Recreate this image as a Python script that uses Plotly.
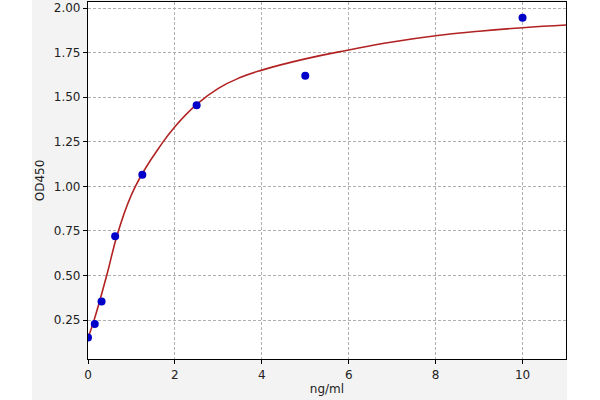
import plotly.graph_objects as go

# standard points
conc = [0, 0.156, 0.312, 0.625, 1.25, 2.5, 5, 10]
od450 = [0.153, 0.228, 0.355, 0.72, 1.065, 1.455, 1.62, 1.945]

# fitted curve
curve_x = [0, 0.14, 0.43, 0.70, 1.09, 1.70, 2.0, 2.5, 3.0, 3.5, 4.0, 5.0, 6.0, 7.0, 8.0, 9.0, 10.0, 11.0]
curve_y = [0.15, 0.25, 0.50, 0.75, 1.00, 1.24, 1.335, 1.46, 1.55, 1.61, 1.652, 1.715, 1.765, 1.81, 1.845, 1.87, 1.89, 1.905]

x_ticks = [0, 2, 4, 6, 8, 10]
y_ticks = [0.25, 0.50, 0.75, 1.00, 1.25, 1.50, 1.75, 2.00]

fig = go.Figure()

fig.add_trace(go.Scatter(
    x=curve_x, y=curve_y, mode="lines",
    line=dict(color="#b22222", width=1.6, shape="spline", smoothing=1.3),
    hoverinfo="skip"))

fig.add_trace(go.Scatter(
    x=conc, y=od450, mode="markers",
    marker=dict(color="#0000c8", size=8, line=dict(width=0))))

# white strips left and right of the grey figure band (cropped matplotlib figure)
fig.add_shape(type="rect", xref="paper", yref="paper",
              x0=-0.2, x1=-0.117, y0=-0.2, y1=1.1,
              fillcolor="white", line=dict(width=0), layer="below")
fig.add_shape(type="rect", xref="paper", yref="paper",
              x0=1.002, x1=1.2, y0=-0.2, y1=1.1,
              fillcolor="white", line=dict(width=0), layer="below")

axis_style = dict(
    showline=True, linecolor="black", linewidth=1.2, mirror=True,
    ticks="outside", ticklen=4, tickcolor="black", tickwidth=1,
    showgrid=True, gridcolor="#b0b0b0", griddash="3px,2px", gridwidth=0.8,
    zeroline=False,
    tickfont=dict(family="DejaVu Sans", size=12, color="#222222"),
)

fig.update_xaxes(range=[0, 11], tickvals=x_ticks,
                 title=dict(text="ng/ml", standoff=4,
                            font=dict(family="DejaVu Sans", size=12, color="#222222")),
                 **axis_style)
fig.update_yaxes(range=[0.032, 2.034], tickvals=y_ticks, tickformat=".2f",
                 title=dict(text="OD450", standoff=6,
                            font=dict(family="DejaVu Sans", size=12, color="#222222")),
                 **axis_style)

fig.update_layout(
    width=600, height=400,
    margin=dict(l=88, r=34, t=2, b=41),
    paper_bgcolor="#f3f3f3", plot_bgcolor="white",
    showlegend=False,
)

# drop the page's default body margin so the figure sits at the window corner
fig.write_html("out.html", config={"displayModeBar": False},
               post_script="document.body.style.margin='0';")
